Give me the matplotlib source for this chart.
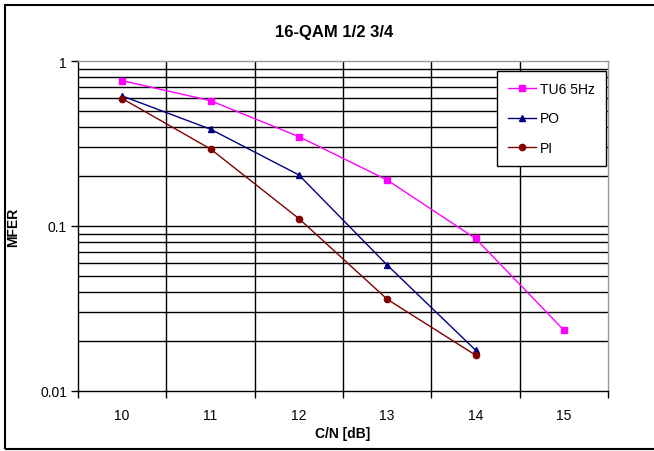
import matplotlib
matplotlib.use('Agg')
import matplotlib.pyplot as plt
from matplotlib.patches import Rectangle
from matplotlib.ticker import FixedLocator, NullFormatter, FixedFormatter

plt.rcParams['font.family'] = ['Liberation Sans', 'DejaVu Sans']

# data
cn = [10, 11, 12, 13, 14, 15]
tu6_x = [10, 11, 12, 13, 14, 15]
tu6 = [0.76, 0.575, 0.348, 0.19, 0.084, 0.0234]
po_x = [10, 11, 12, 13, 14]
po = [0.614, 0.386, 0.204, 0.058, 0.0177]
pi_x = [10, 11, 12, 13, 14]
pi = [0.592, 0.293, 0.111, 0.036, 0.0165]
y_ticks = [0.01, 0.1, 1]
y_labels = ['0.01', '0.1', '1']

fig = plt.figure(figsize=(6.54, 4.52), dpi=100)
ax = fig.add_axes([78/654, 1-392/452, 530/654, 330/452])

# outer chart frame (right edge runs off the picture)
fig.patches.append(Rectangle((5/654, 2/452), 1.0, 444/452, transform=fig.transFigure,
                             fill=False, edgecolor='black', linewidth=1.5))

ax.set_yscale('log')
ax.set_ylim(0.01, 1)
ax.set_xlim(9.5, 15.5)

# gridlines, excel style
minors = [k * d for d in (0.01, 0.1) for k in range(2, 10)]
for v in minors + [0.1]:
    ax.axhline(v, color='black', linewidth=1.0, zorder=1)
for b in [10.5, 11.5, 12.5, 13.5, 14.5]:
    ax.axvline(b, color='black', linewidth=1.0, zorder=1)

ax.plot(tu6_x, tu6, color='#ff00ff', marker='s', markersize=5, linewidth=1, label='TU6 5Hz', zorder=3)
ax.plot(po_x, po, color='#000080', marker='^', markersize=5, linewidth=1, label='PO', zorder=3)
ax.plot(pi_x, pi, color='#800000', marker='o', markersize=4.5, linewidth=1, label='PI', zorder=3)

# x: category labels between tick marks
ax.xaxis.set_major_locator(FixedLocator([9.5, 10.5, 11.5, 12.5, 13.5, 14.5, 15.5]))
ax.xaxis.set_major_formatter(NullFormatter())
ax.xaxis.set_minor_locator(FixedLocator(cn))
ax.xaxis.set_minor_formatter(FixedFormatter([str(c) for c in cn]))
ax.tick_params(axis='x', which='major', direction='out', length=5, width=1, color='black')
ax.tick_params(axis='x', which='minor', length=0, pad=12, labelsize=10)

ax.yaxis.set_major_locator(FixedLocator(y_ticks))
ax.yaxis.set_major_formatter(FixedFormatter(y_labels))
ax.yaxis.set_minor_locator(FixedLocator([]))
ax.tick_params(axis='y', which='major', direction='out', length=5, width=1, labelsize=10, pad=3)

for s in ['left', 'bottom']:
    ax.spines[s].set_color('black')
    ax.spines[s].set_linewidth(1)
for s in ['top', 'right']:
    ax.spines[s].set_color('#999999')
    ax.spines[s].set_linewidth(1)

ax.set_xlabel('C/N [dB]', fontsize=10, fontweight='bold', labelpad=3)
ax.set_ylabel('MFER', fontsize=10, fontweight='bold', labelpad=14)
fig.text(334/654, 1-33/452, '16-QAM 1/2 3/4', fontsize=12, fontweight='bold',
         ha='center', va='center')

leg = ax.legend(loc='upper left', bbox_to_anchor=((497-78)/530, (392-72)/330),
                fontsize=10, frameon=True, fancybox=False, borderpad=0.8,
                labelspacing=1.1, handlelength=2.0, handletextpad=0.3, borderaxespad=0)
leg.get_frame().set_edgecolor('black')
leg.get_frame().set_linewidth(1)
leg.get_frame().set_alpha(1)

fig.savefig('out.png', dpi=100)
